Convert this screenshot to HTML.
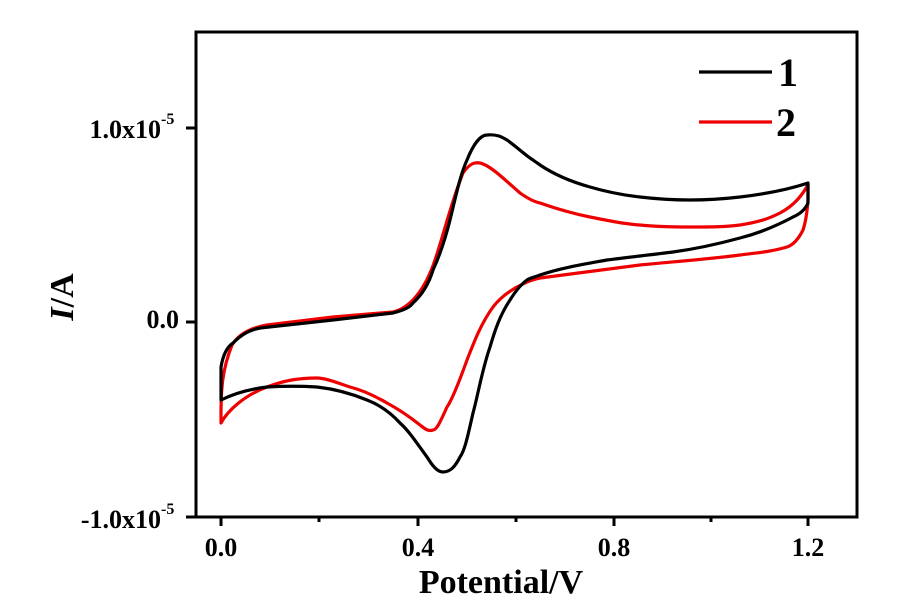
<!DOCTYPE html>
<html><head><meta charset="utf-8"><style>
html,body{margin:0;padding:0;background:#fff;}
svg{display:block;font-family:"Liberation Serif",serif;font-weight:bold;}
</style></head><body>
<svg width="900" height="611" viewBox="0 0 900 611" xmlns="http://www.w3.org/2000/svg">
<rect x="196" y="32" width="661" height="485" fill="none" stroke="#000" stroke-width="3"/>
<g stroke="#000" stroke-width="3">
<line x1="221" y1="517" x2="221" y2="526"/><line x1="418" y1="517" x2="418" y2="526"/><line x1="614" y1="517" x2="614" y2="526"/><line x1="808" y1="517" x2="808" y2="526"/>
<line x1="319" y1="517" x2="319" y2="522"/><line x1="516" y1="517" x2="516" y2="522"/><line x1="711" y1="517" x2="711" y2="522"/>
<line x1="186" y1="128" x2="196" y2="128"/><line x1="186" y1="322" x2="196" y2="322"/><line x1="186" y1="517" x2="196" y2="517"/>
</g>
<g font-size="26" text-anchor="middle">
<text x="221" y="556">0.0</text><text x="418" y="556">0.4</text><text x="614" y="556">0.8</text><text x="808" y="556">1.2</text>
</g>
<g font-size="26" text-anchor="end">
<text x="161" y="138">1.0x10</text><text x="179" y="328">0.0</text><text x="161" y="528">-1.0x10</text>
</g>
<g font-size="16"><text x="161" y="124">-5</text><text x="161" y="514">-5</text></g>
<text x="501" y="593" font-size="34" text-anchor="middle">Potential/V</text>
<text transform="translate(73,297) rotate(-90)" font-size="34" text-anchor="middle"><tspan font-style="italic">I</tspan>/A</text>
<line x1="699" y1="72" x2="772" y2="72" stroke="#000" stroke-width="3.3"/>
<text x="778" y="86" font-size="40">1</text>
<line x1="699" y1="122" x2="772" y2="122" stroke="#e00" stroke-width="3.3"/>
<text x="776" y="136" font-size="40">2</text>
<g fill="none" stroke-width="3.2" stroke-linejoin="round" stroke-linecap="round">
<path stroke="#e00" d="M221,423 L221,415 C221,390 222,370 232,345 C240,332 255,327 267,325 L333,317 L393,312 C410,308 425,290 435,260 C445,230 452,200 463,173 C470,163 475,162 480,163 C490,165 505,180 520,193 C530,200 535,202 540,203 C560,210 575,214 590,217 C610,221 625,224 640,225 C660,227 675,227 690,227 C710,227 725,227 740,225 C760,222 770,218 780,213 C795,205 802,195 808,185 L808,200 C807,215 805,224 803,230 C798,240 793,245 787,247 C770,252 755,253 740,255 C710,259 670,262 640,265 C600,270 570,274 540,278 C530,280 527,282 523,284 C510,290 500,298 493,307 C480,325 473,345 467,360 C458,385 452,400 447,407 C441,420 437,430 433,430 C428,432 424,428 420,425 C410,417 400,410 387,403 C375,396 362,390 350,387 C335,382 325,378 317,378 C300,378 285,380 267,387 C245,395 228,410 221,423 Z"/>
<path stroke="#000" d="M221,400 L221,367 C223,355 227,347 233,343 C242,334 250,330 260,328 L333,320 L393,313 C405,310 410,307 413,303 C425,292 430,280 433,270 C440,255 445,240 450,220 C455,200 460,175 467,160 C473,145 480,135 487,135 C497,134 502,137 507,140 C517,147 525,155 533,160 C537,163 539,164 540,165 C555,175 572,182 590,187 C607,192 622,195 640,197 C657,199 673,200 690,200 C707,200 723,199 740,197 C765,194 790,189 808,183 L808,203 C805,210 800,214 793,217 C778,225 760,233 740,238 C718,244 695,249 673,252 C650,255 630,257 607,260 C585,264 560,268 540,275 C535,277 530,278 527,280 C520,285 515,292 510,300 C500,315 495,330 490,347 C482,370 478,395 473,413 C468,435 465,450 460,457 C455,467 450,472 443,472 C437,472 432,465 427,457 C418,445 410,432 400,423 C390,412 380,405 367,400 C350,393 335,389 317,387 C300,386 285,386 267,387 C250,389 235,393 221,400 Z"/>
</g>
</svg>
</body></html>
